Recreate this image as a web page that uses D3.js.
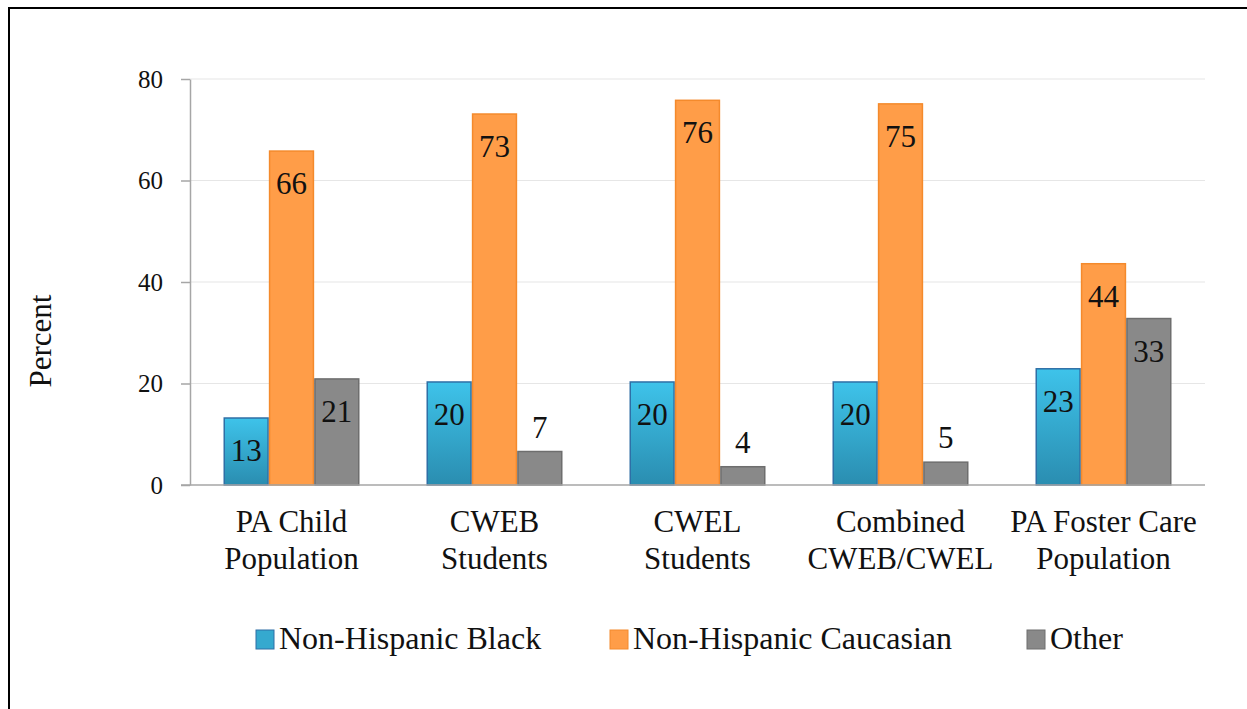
<!DOCTYPE html>
<html lang="en">
<head>
<meta charset="utf-8">
<title>Race/ethnicity comparison</title>
<script src="https://d3js.org/d3.v7.min.js"></script>
<style>
  body { margin: 0; background: #fff; }
  text { font-family: "Liberation Serif", "Times New Roman", serif; fill: #111; }
</style>
</head>
<body>
<script>
// data
var categories = [["PA Child", "Population"], ["CWEB", "Students"], ["CWEL", "Students"],
                  ["Combined", "CWEB/CWEL"], ["PA Foster Care", "Population"]];
var seriesNames = ["Non-Hispanic Black", "Non-Hispanic Caucasian", "Other"];
var black = [13.2, 20.3, 20.3, 20.3, 22.9];
var caucasian = [65.8, 73.1, 75.8, 75.1, 43.6];
var other = [20.9, 6.6, 3.6, 4.5, 32.8];
var yTicks = [0, 20, 40, 60, 80];

var width = 1247, height = 709;
var margin = {top: 79, right: 42, bottom: 224, left: 190};

var svg = d3.select("body").append("svg")
    .attr("width", width)
    .attr("height", height);

var defs = svg.append("defs");
var grad = defs.append("linearGradient").attr("id", "blueGrad")
    .attr("x1", 0).attr("y1", 0).attr("x2", 0).attr("y2", 1);
grad.append("stop").attr("offset", "0%").attr("stop-color", "#3ec3ea");
grad.append("stop").attr("offset", "100%").attr("stop-color", "#2a8db0");

var fills = ["url(#blueGrad)", "#ff9d48", "#898989"];
var strokes = ["#2f6fa6", "#f48a2c", "#6e6e6e"];
var legendFills = ["#35a9cf", "#ff9d48", "#898989"];

// outer frame
svg.append("rect")
    .attr("x", 9).attr("y", 8)
    .attr("width", width + 20).attr("height", height + 20)
    .attr("fill", "none").attr("stroke", "#000").attr("stroke-width", 2);

var x0 = d3.scaleBand()
    .domain(d3.range(categories.length))
    .range([margin.left, width - margin.right])
    .paddingInner(0.33).paddingOuter(0.165);

var x1 = d3.scaleBand()
    .domain(d3.range(seriesNames.length))
    .range([0, x0.bandwidth()]);

var y = d3.scaleLinear()
    .domain([0, 80])
    .range([height - margin.bottom, margin.top]);

// gridlines
svg.append("g").selectAll("line")
    .data(yTicks.slice(1))
    .enter().append("line")
    .attr("x1", margin.left).attr("x2", width - margin.right)
    .attr("y1", function(d) { return y(d); })
    .attr("y2", function(d) { return y(d); })
    .attr("stroke", "#e6e6e6").attr("stroke-width", 1.2);

// y axis
var yAxis = svg.append("g")
    .attr("transform", "translate(" + margin.left + ",0)")
    .call(d3.axisLeft(y).tickValues(yTicks).tickSize(9).tickPadding(18).tickSizeOuter(0));
yAxis.selectAll("line, path").attr("stroke", "#a6a6a6").attr("stroke-width", 1.5);
yAxis.selectAll("text")
    .style("font-family", "Liberation Serif, serif")
    .style("font-size", "25px").attr("fill", "#222");

svg.append("text")
    .attr("transform", "translate(51," + 341 + ") rotate(-90)")
    .attr("text-anchor", "middle")
    .style("font-size", "31px")
    .text("Percent");

// bars
var table = categories.map(function(c, i) { return [black[i], caucasian[i], other[i]]; });

var groups = svg.append("g").selectAll("g")
    .data(table)
    .enter().append("g")
    .attr("transform", function(d, i) { return "translate(" + x0(i) + ",0)"; });

groups.selectAll("rect")
    .data(function(d) { return d.map(function(v, s) { return {v: v, s: s}; }); })
    .enter().append("rect")
    .attr("x", function(d) { return x1(d.s) + 0.75; })
    .attr("width", x1.bandwidth() - 1.5)
    .attr("y", function(d) { return y(d.v); })
    .attr("height", function(d) { return y(0) - y(d.v); })
    .attr("fill", function(d) { return fills[d.s]; })
    .attr("stroke", function(d) { return strokes[d.s]; })
    .attr("stroke-width", 1.5);

groups.selectAll("text.val")
    .data(function(d) { return d.map(function(v, s) { return {v: v, s: s}; }); })
    .enter().append("text")
    .attr("class", "val")
    .attr("text-anchor", "middle")
    .attr("x", function(d) { return x1(d.s) + x1.bandwidth() / 2; })
    .attr("y", function(d) {
      // small values sit above the bar
      return d.v < 10 ? y(d.v) - 14 : y(d.v) + 43;
    })
    .style("font-size", "31px")
    .text(function(d) { return Math.round(d.v); });

// x axis
var xAxis = svg.append("g")
    .attr("transform", "translate(0," + y(0) + ")");
xAxis.append("line")
    .attr("x1", margin.left - 9).attr("x2", width - margin.right)
    .attr("stroke", "#a6a6a6").attr("stroke-width", 1.5);

var catLabels = svg.append("g").selectAll("text")
    .data(categories)
    .enter().append("text")
    .attr("text-anchor", "middle")
    .attr("x", function(d, i) { return x0(i) + x0.bandwidth() / 2; })
    .attr("y", 532)
    .style("font-size", "31px");
catLabels.append("tspan").attr("x", function(d, i) { return x0(i) + x0.bandwidth() / 2; })
    .text(function(d) { return d[0]; });
catLabels.append("tspan").attr("x", function(d, i) { return x0(i) + x0.bandwidth() / 2; })
    .attr("dy", 37)
    .text(function(d) { return d[1]; });

// legend
var legendX = [256, 610, 1027];
var legend = svg.append("g").selectAll("g")
    .data(seriesNames)
    .enter().append("g")
    .attr("transform", function(d, i) { return "translate(" + legendX[i] + ",630)"; });
legend.append("rect")
    .attr("width", 18).attr("height", 19)
    .attr("fill", function(d, i) { return legendFills[i]; })
    .attr("stroke", function(d, i) { return strokes[i]; });
legend.append("text")
    .attr("x", 23).attr("y", 19)
    .style("font-size", "32px")
    .text(function(d) { return d; });
</script>
</body>
</html>
